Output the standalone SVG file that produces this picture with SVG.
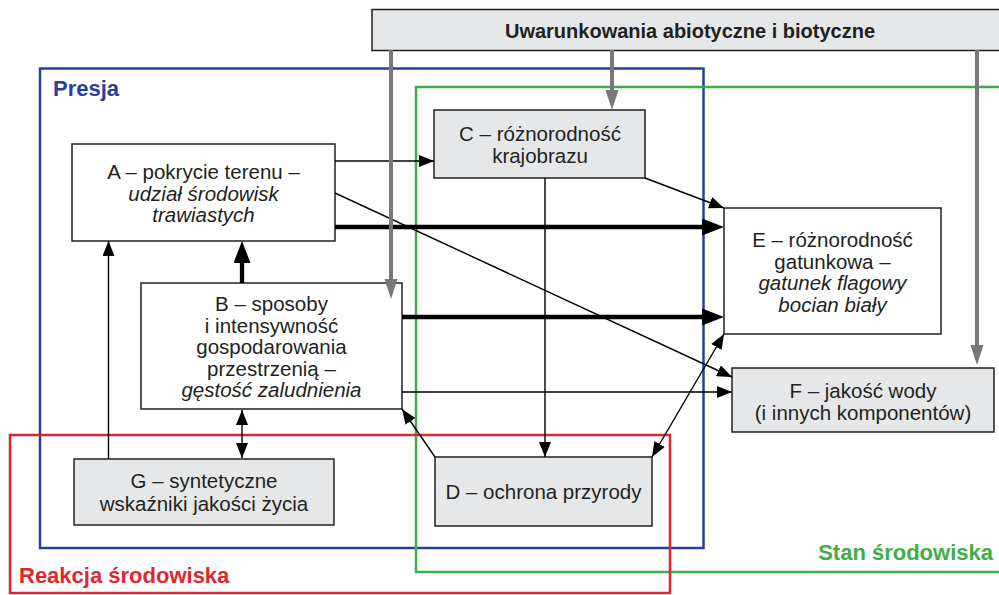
<svg xmlns="http://www.w3.org/2000/svg" width="999" height="595" viewBox="0 0 999 595">
<style>
.frame{fill:none;stroke-width:2.5}
.box{stroke:#231f20;stroke-width:1.5}
.w{fill:#ffffff}
.g{fill:#e6e7e8}
.t{font-family:"Liberation Sans",Arial,sans-serif;font-size:20.5px;fill:#231f20;text-anchor:middle}
.i{font-style:italic}
.lbl{font-family:"Liberation Sans",Arial,sans-serif;font-size:22px;font-weight:bold}
.thin{stroke:#000;stroke-width:1.4;fill:none;marker-end:url(#ah)}
.thick{stroke:#000;stroke-width:4.3;fill:none;marker-end:url(#ahT)}
.gray{stroke:#77787b;stroke-width:4;fill:none;marker-end:url(#ahG)}
</style>
<defs>
<marker id="ah" markerUnits="userSpaceOnUse" markerWidth="16" markerHeight="12" refX="15" refY="6" orient="auto-start-reverse" viewBox="0 0 16 12"><path d="M0,0 L15,6 L0,12 z" fill="#000"/></marker>
<marker id="ahT" markerUnits="userSpaceOnUse" markerWidth="23" markerHeight="18" refX="0" refY="8.5" orient="auto" viewBox="0 0 23 18"><path d="M0,0 L22,8.5 L0,17 z" fill="#000"/></marker>
<marker id="ahG" markerUnits="userSpaceOnUse" markerWidth="21" markerHeight="14" refX="0" refY="6.5" orient="auto" viewBox="0 0 21 14"><path d="M0,0 L20,6.5 L0,13 z" fill="#77787b"/></marker>
</defs>

<g id="frames">
<rect class="frame" x="40" y="68.5" width="663.5" height="479.5" stroke="#27409a"/>
<rect class="frame" x="416" y="87" width="600" height="485" stroke="#41ad49"/>
<rect class="frame" x="10" y="435" width="660" height="158" stroke="#e1262e"/>
<text class="lbl" x="53" y="96" fill="#27409a">Presja</text>
<text class="lbl" x="993" y="560" fill="#41ad49" text-anchor="end">Stan środowiska</text>
<text class="lbl" x="19" y="583" fill="#e1262e">Reakcja środowiska</text>
</g>

<g id="top">
<rect class="box g" x="372" y="9.5" width="640" height="41"/>
<text x="690" y="38" font-family="Liberation Sans, Arial, sans-serif" font-size="20" font-weight="bold" fill="#231f20" text-anchor="middle">Uwarunkowania abiotyczne i biotyczne</text>
</g>

<g id="A">
<rect class="box w" x="72" y="144" width="263" height="97"/>
<text class="t" x="203.5" y="179">A – pokrycie terenu –</text>
<text class="t i" x="203.5" y="200.5">udział środowisk</text>
<text class="t i" x="203.5" y="222">trawiastych</text>
</g>

<g id="B">
<rect class="box w" x="141" y="283" width="261" height="126"/>
<text class="t" x="271.5" y="311">B – sposoby</text>
<text class="t" x="271.5" y="332.5">i intensywność</text>
<text class="t" x="271.5" y="354">gospodarowania</text>
<text class="t" x="271.5" y="375.5">przestrzenią –</text>
<text class="t i" x="271.5" y="397">gęstość zaludnienia</text>
</g>

<g id="C">
<rect class="box g" x="434" y="110" width="211" height="68"/>
<text class="t" x="540" y="141">C – różnorodność</text>
<text class="t" x="540" y="163">krajobrazu</text>
</g>

<g id="D">
<rect class="box g" x="435" y="457" width="217" height="69"/>
<text class="t" x="543.5" y="498.5">D – ochrona przyrody</text>
</g>

<g id="E">
<rect class="box w" x="724" y="208" width="217" height="126"/>
<text class="t" x="832.5" y="247">E – różnorodność</text>
<text class="t" x="832.5" y="268.5">gatunkowa –</text>
<text class="t i" x="832.5" y="290">gatunek flagowy</text>
<text class="t i" x="832.5" y="311.5">bocian biały</text>
</g>

<g id="F">
<rect class="box g" x="732" y="368" width="262" height="64"/>
<text class="t" x="863" y="398">F – jakość wody</text>
<text class="t" x="863" y="420">(i innych komponentów)</text>
</g>

<g id="G">
<rect class="box g" x="74" y="459" width="260" height="66"/>
<text class="t" x="204" y="488">G – syntetyczne</text>
<text class="t" x="204" y="511">wskaźniki jakości życia</text>
</g>

<g id="connectors">
<line class="thin" x1="108.5" y1="459" x2="108.5" y2="241"/>
<line class="thin" x1="242" y1="410" x2="242" y2="458" marker-start="url(#ah)"/>
<line class="thin" x1="335" y1="161" x2="434" y2="161"/>
<line class="thin" x1="645" y1="178" x2="724" y2="208"/>
<line class="thin" x1="335" y1="193" x2="732" y2="377"/>
<line class="thin" x1="402" y1="392" x2="732" y2="392"/>
<line class="thin" x1="545" y1="178" x2="545" y2="457"/>
<line class="thin" x1="435" y1="457" x2="402" y2="409"/>
<line class="thin" x1="652" y1="457" x2="724" y2="334" marker-start="url(#ah)"/>
<line class="thick" x1="242" y1="283" x2="242" y2="263"/>
<line class="thick" x1="335" y1="227" x2="702" y2="227"/>
<line class="thick" x1="402" y1="317" x2="702" y2="317"/>
<line class="gray" x1="391" y1="50" x2="391" y2="279"/>
<line class="gray" x1="612" y1="50" x2="612" y2="90"/>
<line class="gray" x1="977" y1="50" x2="977" y2="345"/>
</g>
</svg>
